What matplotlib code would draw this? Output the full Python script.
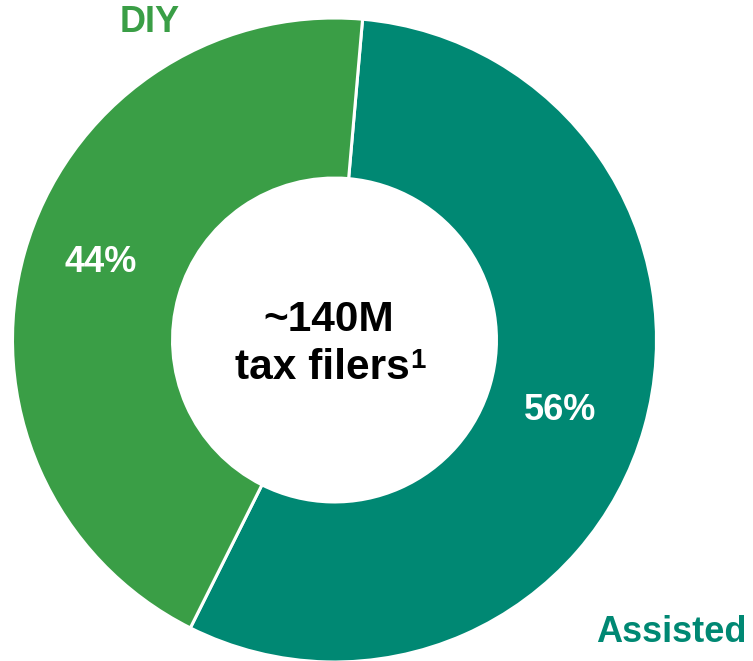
import matplotlib
matplotlib.use('Agg')
import matplotlib.pyplot as plt

plt.rcParams['font.family'] = ['Liberation Sans', 'DejaVu Sans']
plt.rcParams['font.weight'] = 'bold'

labels = ['Assisted', 'DIY']
shares = [56, 44]
colors = ['#008873', '#3a9e46']
pct_labels = ['56%', '44%']

W, H = 753, 661
fig = plt.figure(figsize=(W / 100, H / 100), dpi=100)
ax = fig.add_axes([0, 0, 1, 1])

cx, cy, r = 334.5, H - 340, 322
wedges, _ = ax.pie(shares, colors=colors, startangle=85, counterclock=False,
                   center=(cx, cy), radius=r,
                   wedgeprops=dict(width=r * 0.497, edgecolor='white', linewidth=2.2))

ax.set_xlim(0, W)
ax.set_ylim(0, H)
ax.axis('off')

# percentage labels inside the ring
ax.text(560, H - 410, pct_labels[0], color='white', fontsize=26, ha='center', va='center')
ax.text(101, H - 262, pct_labels[1], color='white', fontsize=26, ha='center', va='center')

# category labels outside
ax.text(671, H - 632, labels[0], color=colors[0], fontsize=26, ha='center', va='center')
ax.text(150, H - 22, labels[1], color=colors[1], fontsize=26, ha='center', va='center')

# centre text
ax.text(329, H - 320, '~140M', color='black', fontsize=30.5, ha='center', va='center')
t2 = ax.text(322, H - 368, 'tax filers', color='black', fontsize=30.5, ha='center', va='center')
ax.annotate('1', xy=(1, 1.0), xycoords=t2, xytext=(0.5, 0), textcoords='offset points',
            fontsize=20, ha='left', va='top', color='black')

fig.savefig('out.png', dpi=100)
